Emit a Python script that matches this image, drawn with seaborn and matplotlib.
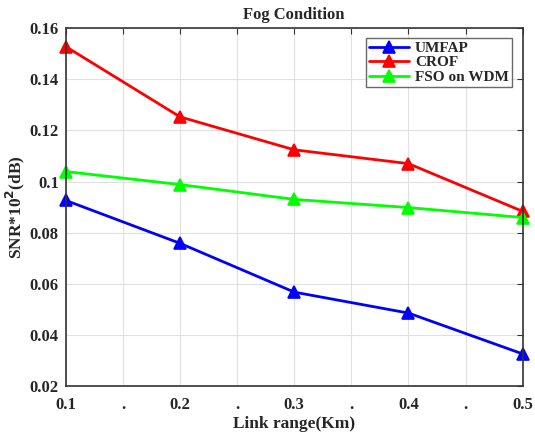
import matplotlib
matplotlib.use("Agg")
import matplotlib.pyplot as plt
import seaborn as sns
import pandas as pd

link_range = [0.1, 0.2, 0.3, 0.4, 0.5]
umfap = [0.0926, 0.0758, 0.0567, 0.0485, 0.0325]
crof = [0.1528, 0.1253, 0.1124, 0.1070, 0.0883]
fso_wdm = [0.1039, 0.0988, 0.0930, 0.0898, 0.0859]
series_names = ["UMFAP", "CROF", "FSO on WDM"]
x_ticks = [0.1, 0.15, 0.2, 0.25, 0.3, 0.35, 0.4, 0.45, 0.5]
x_tick_labels = ["0.1", ".", "0.2", ".", "0.3", ".", "0.4", ".", "0.5"]
y_ticks = [0.02, 0.04, 0.06, 0.08, 0.1, 0.12, 0.14, 0.16]
y_tick_labels = ["0.02", "0.04", "0.06", "0.08", "0.1", "0.12", "0.14", "0.16"]

sns.set_style("white")
plt.rcParams['font.family'] = ['Liberation Serif', 'DejaVu Serif']
plt.rcParams['font.weight'] = 'bold'

df = pd.DataFrame({
    "x": link_range * 3,
    "y": umfap + crof + fso_wdm,
    "series": [series_names[0]] * 5 + [series_names[1]] * 5 + [series_names[2]] * 5,
})

fig = plt.figure(figsize=(5.35, 4.41), dpi=100)
ax = fig.add_axes([0.123, 0.125, 0.854, 0.811])
palette = {"UMFAP": "#0000ff", "CROF": "#ff0000", "FSO on WDM": "#00ff00"}
sns.lineplot(data=df, x="x", y="y", hue="series", palette=palette, marker="^",
             markersize=9, linewidth=2, markeredgewidth=1.2, ax=ax, legend=True)
for line in ax.lines:
    line.set_markeredgecolor(line.get_color())
    line.set_clip_on(False)

ax.set_xlim(0.1, 0.5)
ax.set_ylim(0.02, 0.16)
ax.set_xticks(x_ticks)
ax.set_xticklabels(x_tick_labels)
ax.set_yticks(y_ticks)
ax.set_yticklabels(y_tick_labels)
ax.grid(True, color="#e0e0e0", linewidth=0.8)
ax.tick_params(direction="in", top=True, right=True, length=4, labelsize=12, color="#333333")
ax.tick_params(axis="x", pad=8)
ax.tick_params(axis="y", pad=5)
for lab in ax.get_xticklabels() + ax.get_yticklabels():
    lab.set_fontweight("bold")
for s in ax.spines.values():
    s.set_color("#333333")
    s.set_linewidth(1.2)
ax.set_xlabel("Link range(Km)", fontsize=12.5, fontweight="bold", labelpad=2)
ax.set_ylabel(r"SNR*10$^{\mathbf{2}}$(dB)", fontsize=12.5, fontweight="bold", labelpad=2)
ax.set_title("Fog Condition", fontsize=12, fontweight="bold", pad=7)
leg = ax.legend(loc="upper right", bbox_to_anchor=(0.976, 0.972), borderaxespad=0, frameon=True,
                fancybox=False, edgecolor="#444444", prop={"weight": "bold", "size": 11},
                handlelength=2.6, borderpad=0.2, labelspacing=0.05, handletextpad=0.4)
leg.get_frame().set_linewidth(1.0)
fig.savefig("out.png", dpi=100)
